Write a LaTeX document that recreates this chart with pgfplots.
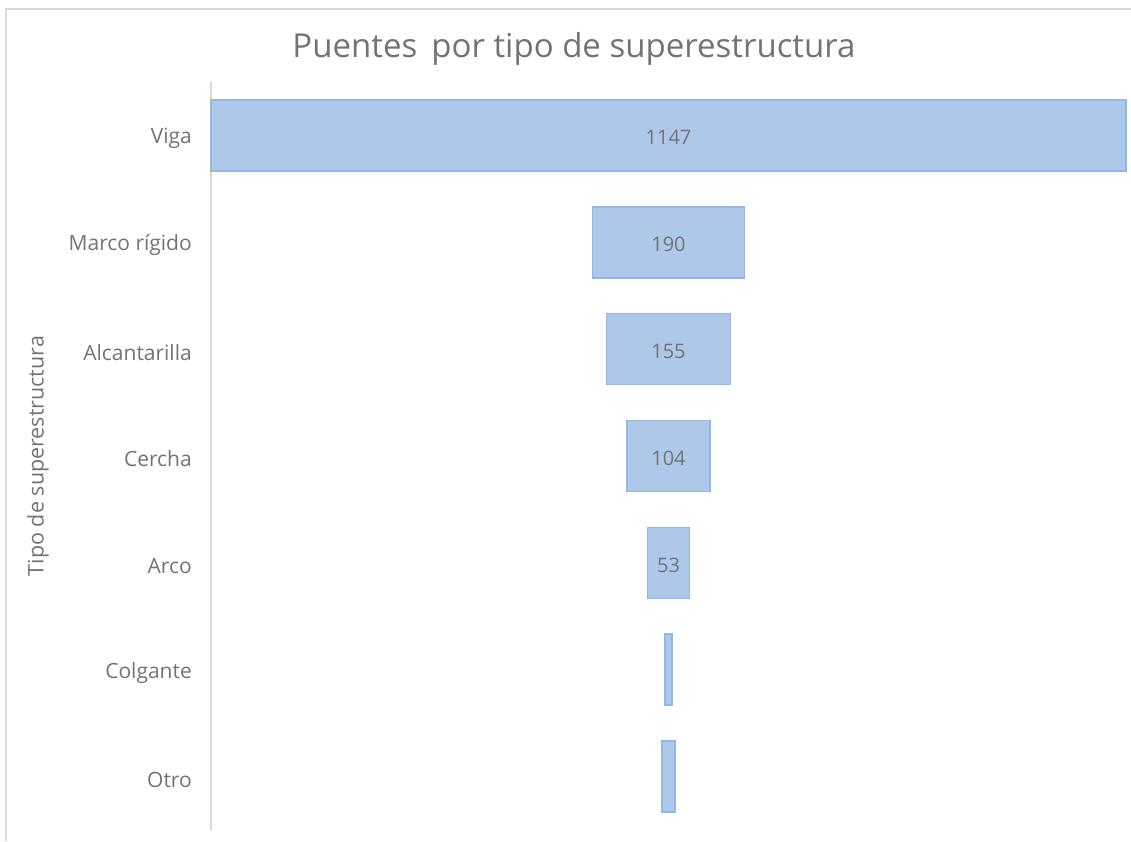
\documentclass[border=0pt]{standalone}
\usepackage{pgfplots}
\pgfplotsset{compat=1.18}
\usepackage{pgfplotstable}
\usepackage{fontspec}
\setmainfont{Open Sans}
\definecolor{txt}{HTML}{737373}
\definecolor{ttl}{HTML}{737373}
\definecolor{barfill}{HTML}{ADC8E9}
\definecolor{bardraw}{HTML}{94B7E3}
\definecolor{frame}{HTML}{D9D9D9}
\pgfplotstableread{
idx off val
0 0 1147
1 478.5 190
2 496 155
3 521.5 104
4 547 53
5 569 9
6 565.5 16
}\data
\pgfplotstableread{
idx x lab
0 573.5 1147
1 573.5 190
2 573.5 155
3 573.5 104
4 573.5 53
}\labs
\begin{document}
\begin{tikzpicture}
\useasboundingbox (0pt,0pt) rectangle (1131pt,841pt);
\draw[frame, line width=1.5pt] (6pt,0pt) -- (6pt,832pt) -- (1131pt,832pt);
\node[text=ttl, font=\fontsize{33}{38}\selectfont] at (574pt,792pt) {Puentes\, por tipo de superestructura};
\node[text=txt, rotate=90, font=\fontsize{21.5}{25}\selectfont] at (38pt,385pt) {Tipo de superestructura};
\begin{axis}[
  at={(211pt,11pt)}, anchor=south west,
  scale only axis, width=915pt, height=748pt,
  xbar stacked, bar width=71pt,
  xmin=0, xmax=1147, ymin=-0.5, ymax=6.5,
  y dir=reverse,
  axis x line=none,
  axis y line*=left,
  y axis line style={frame, line width=1.5pt, -},
  ytick={0,...,6},
  yticklabels={Viga,Marco rígido,Alcantarilla,Cercha,Arco,Colgante,Otro},
  major tick length=0pt,
  yticklabel style={text=txt, font=\fontsize{21}{25}\selectfont, anchor=east, inner sep=0pt, xshift=-19pt, yshift=-3pt},
  clip=false,
]
\addplot[draw=none, fill=none] table[x=off, y=idx] {\data};
\addplot[fill=barfill, draw=bardraw, line width=1.5pt] table[x=val, y=idx] {\data};
\end{axis}
\begin{axis}[
  at={(211pt,11pt)}, anchor=south west,
  scale only axis, width=915pt, height=748pt,
  xmin=0, xmax=1147, ymin=-0.5, ymax=6.5,
  y dir=reverse, hide axis, clip=false,
]
\addplot[draw=none, mark=none, nodes near coords, point meta=explicit symbolic,
  every node near coord/.style={anchor=center, text=txt, yshift=-2pt, font=\fontsize{20}{24}\selectfont}]
  table[x=x, y=idx, meta=lab] {\labs};
\end{axis}
\end{tikzpicture}
\end{document}
